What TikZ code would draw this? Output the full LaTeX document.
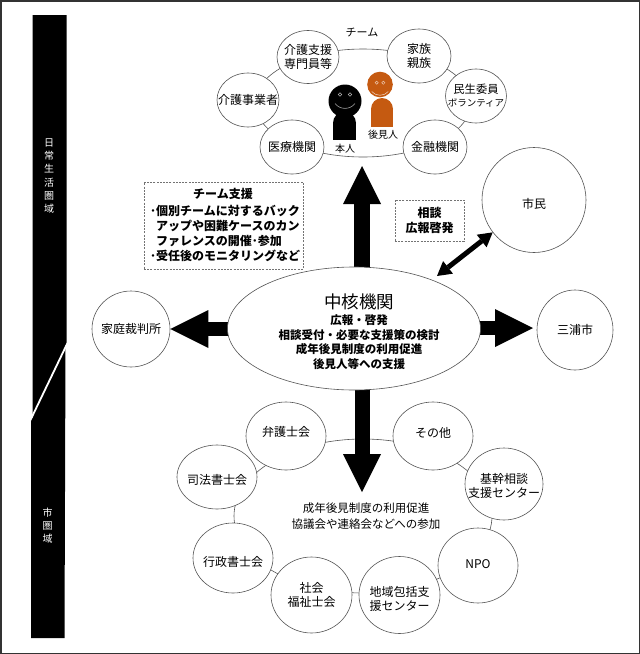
\documentclass[tikz,border=0pt]{standalone}
\usepackage{fontspec}
\setmainfont{Noto Sans CJK JP}
\usetikzlibrary{shapes.geometric,arrows.meta}
\definecolor{orng}{HTML}{C55A11}
\definecolor{lineg}{HTML}{555555}
\begin{document}
\begin{tikzpicture}[x=1pt,y=-1pt,
  cir/.style={ellipse, draw=lineg, line width=0.6pt, fill=white, inner sep=0pt},
  lbl/.style={inner sep=0pt, align=center, font=\fontsize{12}{14}\selectfont},
  ring/.style={draw=lineg, line width=0.6pt},
  dbox/.style={draw=black!55, dash pattern=on 2pt off 1.2pt, line width=0.6pt, inner sep=0pt},
  bigarrow/.style={line width=#1, -{Triangle[width=38pt,length=38pt,line width=0pt]}},
  dblarrow/.style={line width=5pt, {Triangle[width=16pt,length=14pt,line width=0pt]}-{Triangle[width=16pt,length=14pt,line width=0pt]}},
  bartext/.style={inner sep=0pt, align=center, text=white, font=\fontsize{10}{13.3}\selectfont}]
\useasboundingbox (0,0) rectangle (640,654);
\fill[white] (0,0) rectangle (640,654);
\draw[line width=1.5pt, draw=black!80] (0.75,0.75) rectangle (639.25,653.25);

% left bar
\fill[black] (32.5,15) -- (66.5,15) -- (66.5,345) -- (65.5,345) -- (64.5,638) -- (31,638) -- (31,418) -- (32.5,418) -- cycle;
\draw[white, line width=1.8pt] (67.5,343) -- (30,421);
\node[bartext] (nichijo) at (49,176) {日\\常\\生\\活\\圏\\域};
\node[bartext] (shiken) at (47.5,525.5) {市\\圏\\域};

% team ring
\draw[ring] (363,103) ellipse [x radius=108pt, y radius=54pt];
\node[lbl, font=\fontsize{11}{13}\selectfont] (teamlbl) at (362,32) {チーム};
\node[cir, minimum width=62pt, minimum height=53pt, label={[lbl]center:介護支援\\専門員等}] (kshien) at (308,57) {};
\node[cir, minimum width=64pt, minimum height=54pt, label={[lbl]center:家族\\親族}] (kazoku) at (419,56) {};
\node[cir, minimum width=61pt, minimum height=54pt, label={[lbl,font=\fontsize{11.3}{13}\selectfont]center:民生委員\\{\fontsize{9.5}{13}\selectfont ボランティア}}] (minsei) at (476,96) {};
\node[cir, minimum width=62pt, minimum height=54pt, label={[lbl]center:介護事業者}] (jigyo) at (248,100) {};
\node[cir, minimum width=64pt, minimum height=54pt, label={[lbl]center:医療機関}] (iryo) at (292,147) {};
\node[cir, minimum width=64pt, minimum height=54pt, label={[lbl]center:金融機関}] (kinyu) at (435,147) {};

% persons
\fill[black] (333,123) rectangle (356,140);
\fill[black] (344.5,123) circle[radius=11.5pt];
\fill[black] (345,101) circle[radius=16.5pt];
\draw[gray!60, line width=0.5pt] (340,94.5) circle[radius=1.8pt] (350,94.5) circle[radius=1.8pt];
\draw[gray!70, line width=0.6pt] (335,103.5) .. controls (340,110) and (350,110) .. (355,103.5);
\fill[orng] (371,109) rectangle (393,127);
\fill[orng] (382,109) circle[radius=11pt];
\fill[orng] (380,84.5) circle[radius=12.8pt];
\draw[orng!35, line width=0.5pt] (376.7,82.7) circle[radius=1.6pt] (383.3,82.7) circle[radius=1.6pt];
\draw[orng!35, line width=0.6pt] (371.7,91.5) .. controls (376,96.5) and (384,96.5) .. (388.3,91.5);
\node[lbl, font=\fontsize{10}{12}\selectfont] (honnin) at (345,149) {本人};
\node[lbl, font=\fontsize{10}{12}\selectfont] (kokennin) at (383,135) {後見人};

% bottom ring
\draw[ring] (363,516) ellipse [x radius=129pt, y radius=77pt];
\node[cir, minimum width=80pt, minimum height=68pt, label={[lbl,yshift=4pt]center:弁護士会}] (bengo) at (286,436) {};
\node[cir, minimum width=80pt, minimum height=68pt, label={[lbl,yshift=3pt]center:その他}] (sonota) at (433,436) {};
\node[cir, minimum width=80pt, minimum height=64pt, label={[lbl,yshift=-3pt]center:司法書士会}] (shiho) at (217,477) {};
\node[cir, minimum width=78pt, minimum height=72pt, label={[lbl,yshift=-1.5pt]center:基幹相談\\支援センター}] (kikan) at (504,484) {};
\node[cir, minimum width=80pt, minimum height=70pt, label={[lbl,yshift=-4pt]center:行政書士会}] (gyosei) at (233,558) {};
\node[cir, minimum width=81pt, minimum height=76pt, label={[lbl]center:社会\\福祉士会}] (shakai) at (311.5,595) {};
\node[cir, minimum width=81pt, minimum height=77pt, label={[lbl,yshift=-4pt]center:地域包括支\\援センター}] (chiiki) at (399.5,595) {};
\node[cir, minimum width=80pt, minimum height=75pt, label={[lbl,yshift=1pt]center:NPO}] (npo) at (478,565.5) {};
\node[lbl, font=\fontsize{11.5}{16}\selectfont] (kyogi) at (366,516) {成年後見制度の利用促進\\協議会や連絡会などへの参加};

% side circles
\node[cir, minimum width=78pt, minimum height=76pt, label={[lbl]center:家庭裁判所}] (katei) at (131,329) {};
\node[cir, minimum width=76pt, minimum height=80pt, label={[lbl]center:三浦市}] (miura) at (575,330) {};
\node[cir, minimum width=104pt, minimum height=105pt, label={[lbl,yshift=-4pt]center:市民}] (shimin) at (534,200) {};

% big arrows
\coordinate (cU) at (362,280);
\coordinate (uptip) at (362,166);
\coordinate (cD) at (362,380);
\coordinate (dntip) at (362,492);
\coordinate (cL) at (240,329);
\coordinate (cR) at (470,328);
\coordinate (rtip) at (533,328);
\coordinate (dblA) at (437,276);
\draw[bigarrow=16pt] (cU) -- (uptip);
\draw[bigarrow=15pt] (cD) -- (dntip);
\draw[bigarrow=14pt] (cL) -- (katei);
\draw[bigarrow=14pt] (cR) -- (rtip);

% core
\node[cir, minimum width=253pt, minimum height=123pt] (core) at (354,328.5) {};
\node[lbl, font=\fontsize{17.5}{20}\selectfont] (coretitle) at (359,302) {中核機関};
\node[lbl, font=\bfseries\fontsize{11.5}{14.5}\selectfont] (corebody) at (359,342) {広報・啓発\\相談受付・必要な支援策の検討\\成年後見制度の利用促進\\後見人等への支援};

\draw[dblarrow] (dblA) -- (shimin);

% dashed boxes
\node[dbox, minimum width=159pt, minimum height=87pt] (teamsup) at (223.5,225.5) {};
\node[lbl, font=\bfseries\fontsize{12}{14}\selectfont] (teamsuptitle) at (223,194) {チーム支援};
\node[lbl, align=left, anchor=west, font=\bfseries\fontsize{12}{15}\selectfont] (teamsupbody) at (150,233) {･個別チームに対するバック\\\hspace*{6pt}アップや困難ケースのカン\\\hspace*{6pt}ファレンスの開催･参加\\･受任後のモニタリングなど};
\node[dbox, minimum width=69pt, minimum height=41pt, align=center, font=\bfseries\fontsize{12}{15}\selectfont] (sodan) at (429.5,220.5) {相談\\広報啓発};
\end{tikzpicture}
\end{document}
